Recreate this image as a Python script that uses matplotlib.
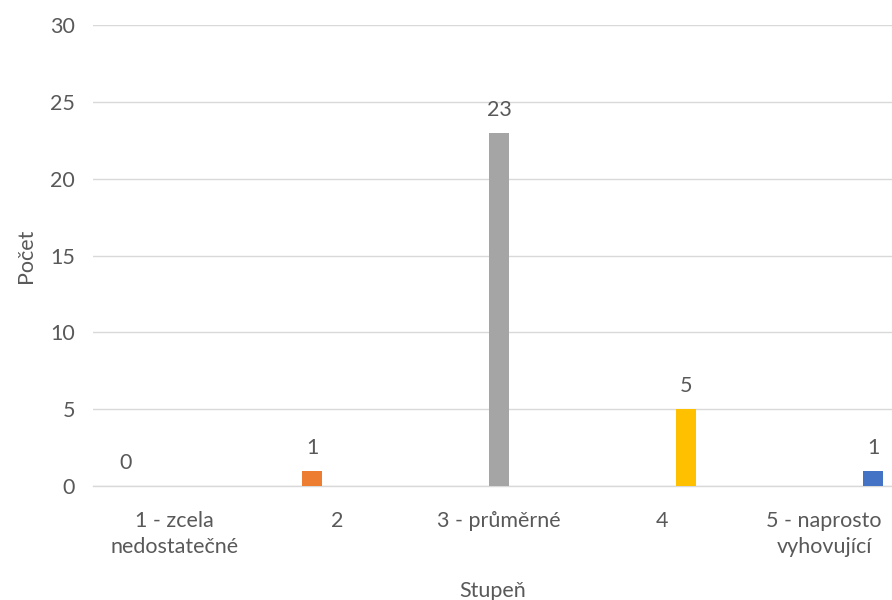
import matplotlib
matplotlib.use("Agg")
import matplotlib.pyplot as plt

plt.rcParams['font.family'] = ['Lato', 'DejaVu Sans']

categories = ["1 - zcela\nnedostatečné", "2", "3 - průměrné", "4", "5 - naprosto\nvyhovující"]
values = [0, 1, 23, 5, 1]
colors = ["#5B9BD5", "#ED7D31", "#A5A5A5", "#FFC000", "#4472C4"]
y_ticks = [0, 5, 10, 15, 20, 25, 30]

text_color = "#595959"
grid_color = "#D9D9D9"
fs = 15.5

W, H = 892, 600
fig = plt.figure(figsize=(W / 100, H / 100), dpi=100)
left_px, right_px, top_px, bottom_px = 93, 892, 25, 486
ax = fig.add_axes([left_px / W, 1 - bottom_px / H,
                   (right_px - left_px) / W, (bottom_px - top_px) / H])

# category spacing and bar geometry in pixels, converted to data units
cat_px = 162.5
bar_w = 20 / cat_px
slot = 24.5 / cat_px

n = len(categories)
for i, (v, c) in enumerate(zip(values, colors)):
    x = i + (i - 2) * slot
    ax.bar(x, v, width=bar_w, color=c, zorder=3)
    ax.text(x, v + 0.85, str(v), ha="center", va="bottom",
            fontsize=fs, color=text_color)

ax.set_xlim(-0.5, -0.5 + (right_px - left_px) / cat_px)
ax.set_ylim(0, 30)
ax.set_yticks(y_ticks)
ax.set_xticks(range(n))
ax.set_xticklabels(categories, linespacing=1.4)
ax.tick_params(axis="both", length=0, labelsize=fs, labelcolor=text_color)
ax.tick_params(axis="y", pad=13)
ax.tick_params(axis="x", pad=18)

ax.yaxis.grid(True, color=grid_color, linewidth=1)
ax.set_axisbelow(True)
for s in ["top", "right", "left"]:
    ax.spines[s].set_visible(False)
ax.spines["bottom"].set_color(grid_color)
ax.spines["bottom"].set_linewidth(1)

ax.set_ylabel("Počet", fontsize=fs, color=text_color, labelpad=10)
ax.set_xlabel("Stupeň", fontsize=fs, color=text_color, labelpad=17)

fig.savefig("out.png", dpi=100)
